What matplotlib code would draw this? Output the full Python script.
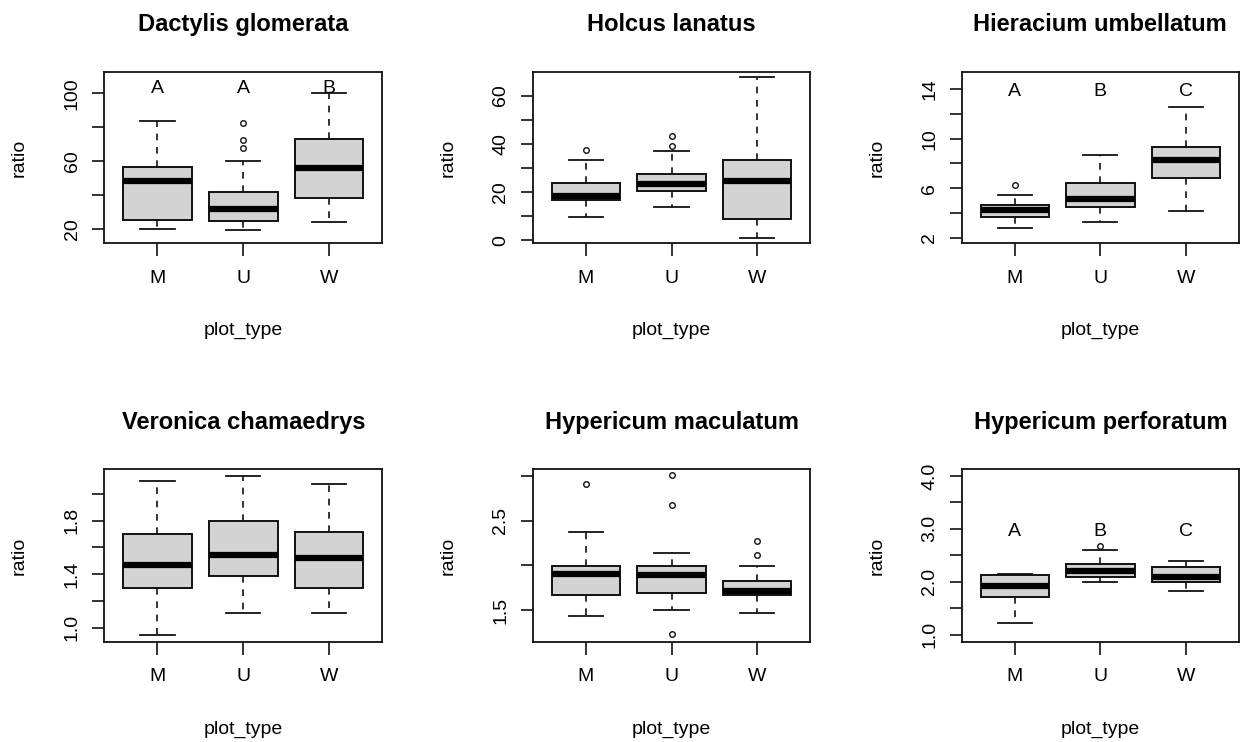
import matplotlib
matplotlib.use("Agg")
import matplotlib.pyplot as plt

plt.rcParams['font.family'] = ['Liberation Sans', 'DejaVu Sans']

species = ["Dactylis glomerata", "Holcus lanatus", "Hieracium umbellatum",
           "Veronica chamaedrys", "Hypericum maculatum", "Hypericum perforatum"]
groups = ["M", "U", "W"]

# per species: values for M, U, W
whislo = [[20.0, 19.2, 24.3], [9.7, 14.0, 1.1], [2.81, 3.29, 4.13],
          [0.948, 1.107, 1.107], [1.437, 1.50, 1.463], [1.22, 1.996, 1.832]]
q1 = [[25.1, 24.9, 38.5], [16.9, 20.6, 9.0], [3.64, 4.48, 6.85],
      [1.297, 1.384, 1.297], [1.664, 1.694, 1.664], [1.718, 2.097, 1.989]]
med = [[48.3, 31.8, 56.0], [18.2, 23.2, 24.6], [4.21, 5.13, 8.28],
       [1.468, 1.543, 1.523], [1.903, 1.888, 1.716], [1.926, 2.204, 2.084]]
q3 = [[56.4, 41.6, 72.9], [23.6, 27.4, 33.5], [4.62, 6.40, 9.36],
      [1.703, 1.800, 1.715], [1.993, 1.993, 1.828], [2.134, 2.330, 2.273]]
whishi = [[83.5, 60.3, 100.0], [33.5, 37.2, 67.6], [5.45, 8.69, 12.57],
          [2.099, 2.134, 2.077], [2.377, 2.142, 1.993], [2.153, 2.607, 2.387]]
fliers = [[[], [82.5, 72.5, 67.6], []],
          [[37.3], [43.1, 39.3], []],
          [[6.23], [], []],
          [[], [], []],
          [[2.91], [3.007, 2.675, 1.231], [2.269, 2.116]],
          [[], [2.683], []]]
letters = [["A", "A", "B"], None, ["A", "B", "C"], None, None, ["A", "B", "C"]]
letter_y = [103.0, None, 13.8, None, None, 2.95]

yticks = [[20, 40, 60, 80, 100], [0, 10, 20, 30, 40, 50, 60], [2, 4, 6, 8, 10, 12, 14],
          [1.0, 1.2, 1.4, 1.6, 1.8, 2.0], [1.5, 2.0, 2.5, 3.0],
          [1.0, 1.5, 2.0, 2.5, 3.0, 3.5, 4.0]]
yticklabels = [["20", "", "60", "", "100"], ["0", "", "20", "", "40", "", "60"],
               ["2", "", "6", "", "10", "", "14"], ["1.0", "", "1.4", "", "1.8", ""],
               ["1.5", "", "2.5", ""], ["1.0", "", "2.0", "", "3.0", "", "4.0"]]
ylims = [(11.6, 112.7), (-1.24, 69.9), (1.54, 15.43),
         (0.893, 2.184), (1.142, 3.075), (0.861, 4.126)]

W, H = 1241, 742
fig = plt.figure(figsize=(W / 100, H / 100), dpi=100)

lefts = [104.3, 532.7, 961.7]
widths = [278.0, 277.6, 277.3]
tops = [71.7, 469.3]
bottoms = [243.3, 642.0]

for k in range(6):
    r, c = divmod(k, 3)
    ax = fig.add_axes([lefts[c] / W, 1 - bottoms[r] / H, widths[c] / W,
                       (bottoms[r] - tops[r]) / H])
    stats = []
    for g in range(3):
        stats.append(dict(med=med[k][g], q1=q1[k][g], q3=q3[k][g],
                          whislo=whislo[k][g], whishi=whishi[k][g],
                          fliers=fliers[k][g], label=groups[g]))
    ax.bxp(stats, positions=[1, 2, 3], widths=0.8, capwidths=0.4,
           patch_artist=True, showfliers=True,
           boxprops=dict(facecolor="#d3d3d3", edgecolor="#111111", linewidth=1.4),
           medianprops=dict(color="black", linewidth=4.5, solid_capstyle="butt"),
           whiskerprops=dict(color="#111111", linewidth=1.2, linestyle=(0, (4, 4))),
           capprops=dict(color="#111111", linewidth=1.3),
           flierprops=dict(marker="o", markersize=4, markerfacecolor="none",
                           markeredgecolor="#111111", markeredgewidth=1.0))
    ax.set_xlim(0.38, 3.62)
    ax.set_ylim(*ylims[k])
    ax.set_yticks(yticks[k])
    ax.set_yticklabels(yticklabels[k], rotation=90, va="center")
    ax.set_xticks([1, 2, 3])
    ax.set_xticklabels(groups)
    ax.tick_params(axis="both", labelsize=14, length=9, width=1.2, color="#111111")
    ax.tick_params(axis="y", pad=8)
    ax.tick_params(axis="x", pad=10)
    for s in ax.spines.values():
        s.set_linewidth(1.3)
        s.set_color("#111111")
    ax.set_title(species[k], fontsize=17, fontweight="bold", pad=29)
    ax.set_xlabel("plot_type", fontsize=14, va="center")
    ax.xaxis.set_label_coords(0.5, -87 / (bottoms[r] - tops[r]))
    ax.set_ylabel("ratio", fontsize=14, va="center")
    ax.yaxis.set_label_coords(-85 / widths[c], 0.5)
    if letters[k] is not None:
        for g in range(3):
            ax.text(g + 1, letter_y[k], letters[k][g], ha="center", va="center",
                    fontsize=14)

fig.savefig("out.png", dpi=100)
